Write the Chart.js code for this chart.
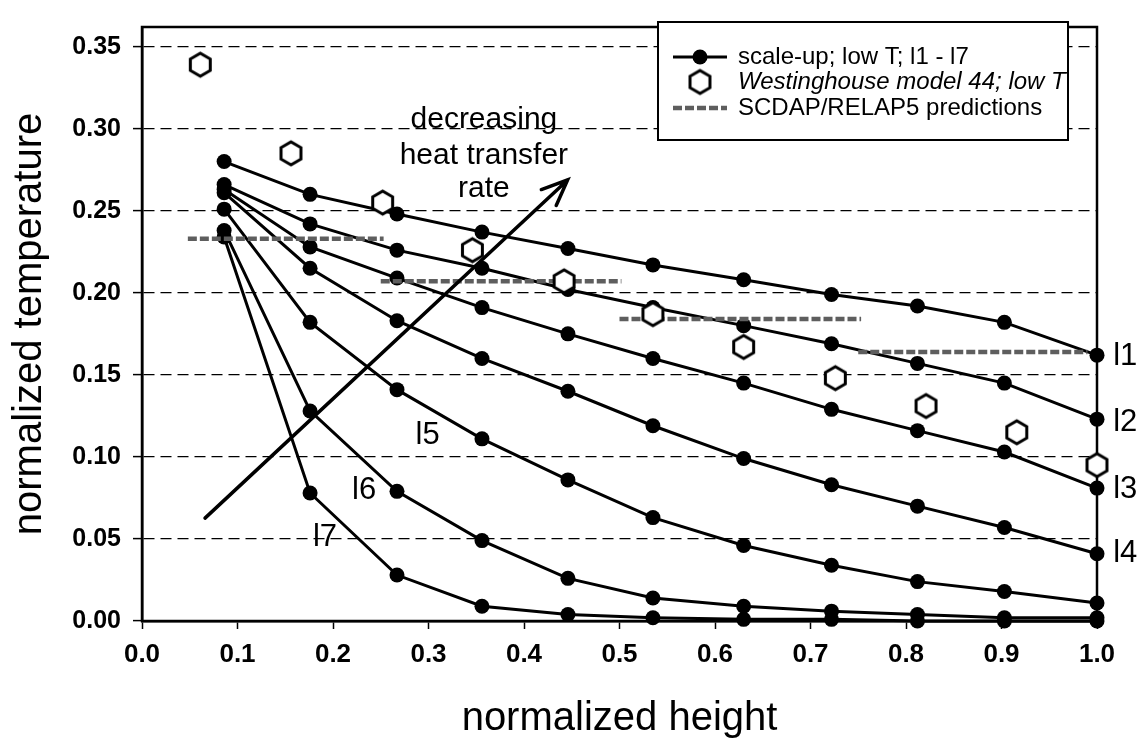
<!DOCTYPE html>
<html>
<head>
<meta charset="utf-8">
<title>normalized temperature vs normalized height</title>
<script src="https://cdn.jsdelivr.net/npm/chart.js@4.4.1/dist/chart.umd.min.js"></script>
<style>
  html, body { margin: 0; padding: 0; background: #fff; }
  #wrap { position: relative; width: 1139px; height: 740px; }
</style>
</head>
<body>
<div id="wrap"><canvas id="temp-chart"></canvas></div>
<script>
// axial positions of the scale-up measurements
const heights = [0.086, 0.176, 0.267, 0.356, 0.446, 0.535, 0.630, 0.722, 0.812, 0.903, 1.0];

// scale-up; low T; l1 - l7
const tempL1 = [0.280, 0.260, 0.248, 0.237, 0.227, 0.217, 0.208, 0.199, 0.192, 0.182, 0.162];
const tempL2 = [0.266, 0.242, 0.226, 0.215, 0.202, 0.191, 0.180, 0.169, 0.157, 0.145, 0.123];
const tempL3 = [0.263, 0.228, 0.209, 0.191, 0.175, 0.160, 0.145, 0.129, 0.116, 0.103, 0.081];
const tempL4 = [0.261, 0.215, 0.183, 0.160, 0.140, 0.119, 0.099, 0.083, 0.070, 0.057, 0.041];
const tempL5 = [0.251, 0.182, 0.141, 0.111, 0.086, 0.063, 0.046, 0.034, 0.024, 0.018, 0.011];
const tempL6 = [0.238, 0.128, 0.079, 0.049, 0.026, 0.014, 0.009, 0.006, 0.004, 0.002, 0.002];
const tempL7 = [0.234, 0.078, 0.028, 0.009, 0.004, 0.002, 0.001, 0.001, 0.0, 0.0, 0.0];
const curveNames = ['l1', 'l2', 'l3', 'l4', 'l5', 'l6', 'l7'];

// Westinghouse model 44; low T
const westHeights = [0.061, 0.156, 0.252, 0.346, 0.442, 0.535, 0.630, 0.726, 0.821, 0.916, 1.0];
const westTemps = [0.339, 0.285, 0.255, 0.226, 0.207, 0.187, 0.167, 0.148, 0.131, 0.115, 0.095];

// SCDAP/RELAP5 predictions (one flat value per node)
const scdapFrom = [0.048, 0.250, 0.500, 0.750];
const scdapTo = [0.253, 0.502, 0.753, 0.990];
const scdapTemps = [0.233, 0.207, 0.184, 0.164];

const xTickValues = [0, 0.1, 0.2, 0.3, 0.4, 0.5, 0.6, 0.7, 0.8, 0.9, 1.0];
const yTickValues = [0, 0.05, 0.10, 0.15, 0.20, 0.25, 0.30, 0.35];

// where the curve names sit (data units, text starts here)
const curveLabelAt = [[1.017, 0.1615], [1.017, 0.121], [1.017, 0.080], [1.017, 0.041],
                      [0.2865, 0.113], [0.220, 0.0795], [0.179, 0.0509]];
const arrowFrom = [0.066, 0.0627];
const arrowTo = [0.4457, 0.2688];
const arrowText = ['decreasing', 'heat transfer', 'rate'];
const arrowTextAt = [[0.358, 0.3006], [0.358, 0.2787], [0.358, 0.2586]];

const FONT = "'Liberation Sans', Arial, Helvetica, sans-serif";
Chart.defaults.font.family = FONT;
Chart.defaults.color = '#000';

function hexagonImage(r) {
    const c = document.createElement('canvas');
    const s = Math.ceil(r * 2 + 6);
    c.width = s;
    c.height = s;
    const g = c.getContext('2d');
    g.beginPath();
    for (let i = 0; i < 6; i++) {
        const ang = Math.PI / 2 + i * Math.PI / 3;
        const px = s / 2 + r * Math.cos(ang);
        const py = s / 2 + r * Math.sin(ang);
        if (i === 0) g.moveTo(px, py); else g.lineTo(px, py);
    }
    g.closePath();
    g.fillStyle = '#fff';
    g.fill();
    g.lineWidth = 3;
    g.strokeStyle = '#000';
    g.stroke();
    return c;
}
const hexImg = hexagonImage(11.5);

const SCDAP_COLOR = '#5e5e5e';
const SCDAP_DASH = [9, 3];

const datasets = [];
datasets.push({
    label: 'Westinghouse model 44; low T',
    data: westHeights.map((h, i) => ({ x: h, y: westTemps[i] })),
    showLine: false,
    pointStyle: hexImg,
    pointRadius: 12,
    clip: false
});
scdapFrom.forEach((from, i) => {
    datasets.push({
        label: 'SCDAP/RELAP5 predictions',
        data: [{ x: from, y: scdapTemps[i] }, { x: scdapTo[i], y: scdapTemps[i] }],
        showLine: true,
        borderColor: SCDAP_COLOR,
        borderWidth: 4.5,
        borderDash: SCDAP_DASH,
        pointRadius: 0,
        clip: false
    });
});
[tempL1, tempL2, tempL3, tempL4, tempL5, tempL6, tempL7].forEach((temps, k) => {
    datasets.push({
        label: curveNames[k],
        data: heights.map((h, i) => ({ x: h, y: temps[i] })),
        showLine: true,
        borderColor: '#000',
        borderWidth: 3,
        pointRadius: 7.5,
        pointBackgroundColor: '#000',
        pointBorderWidth: 0,
        clip: false
    });
});

const overlayPlugin = {
    id: 'overlay',
    beforeDatasetsDraw(chart) {
        const { ctx, chartArea: a } = chart;
        ctx.save();
        ctx.strokeStyle = '#000';
        ctx.lineWidth = 2.5;
        ctx.strokeRect(a.left, a.top, a.right - a.left, a.bottom - a.top);
        ctx.restore();
    },
    afterDatasetsDraw(chart) {
        const { ctx, scales: { x, y } } = chart;
        ctx.save();
        ctx.fillStyle = '#000';
        ctx.strokeStyle = '#000';

        // curve names
        ctx.font = '31px ' + FONT;
        ctx.textAlign = 'left';
        ctx.textBaseline = 'middle';
        curveNames.forEach((name, i) => {
            ctx.fillText(name, x.getPixelForValue(curveLabelAt[i][0]), y.getPixelForValue(curveLabelAt[i][1]));
        });

        // arrow
        const x0 = x.getPixelForValue(arrowFrom[0]), y0 = y.getPixelForValue(arrowFrom[1]);
        const x1 = x.getPixelForValue(arrowTo[0]), y1 = y.getPixelForValue(arrowTo[1]);
        const ang = Math.atan2(y1 - y0, x1 - x0);
        ctx.lineWidth = 3.5;
        ctx.lineCap = 'round';
        ctx.beginPath();
        ctx.moveTo(x0, y0);
        ctx.lineTo(x1, y1);
        ctx.moveTo(x1 - 28 * Math.cos(ang - 0.4), y1 - 28 * Math.sin(ang - 0.4));
        ctx.lineTo(x1, y1);
        ctx.lineTo(x1 - 28 * Math.cos(ang + 0.4), y1 - 28 * Math.sin(ang + 0.4));
        ctx.stroke();

        ctx.font = '30px ' + FONT;
        ctx.textAlign = 'center';
        ctx.textBaseline = 'alphabetic';
        arrowText.forEach((t, i) => {
            ctx.fillText(t, x.getPixelForValue(arrowTextAt[i][0]), y.getPixelForValue(arrowTextAt[i][1]));
        });
        ctx.restore();
    },
    afterDraw(chart) {
        const ctx = chart.ctx;
        const box = { left: 658, top: 22, width: 410, height: 118 };
        ctx.save();
        ctx.fillStyle = '#fff';
        ctx.fillRect(box.left, box.top, box.width, box.height);
        ctx.strokeStyle = '#000';
        ctx.lineWidth = 2;
        ctx.strokeRect(box.left, box.top, box.width, box.height);

        const symX = 700, textX = 738;
        const rows = [57, 82, 108];

        // row 1: line with dot
        ctx.lineWidth = 3;
        ctx.beginPath();
        ctx.moveTo(symX - 27, rows[0]);
        ctx.lineTo(symX + 27, rows[0]);
        ctx.stroke();
        ctx.beginPath();
        ctx.arc(symX, rows[0], 7.5, 0, Math.PI * 2);
        ctx.fillStyle = '#000';
        ctx.fill();

        // row 2: hexagon
        ctx.drawImage(hexImg, symX - hexImg.width / 2, rows[1] - hexImg.height / 2);

        // row 3: grey dashed bar
        ctx.strokeStyle = SCDAP_COLOR;
        ctx.lineWidth = 4.5;
        ctx.setLineDash(SCDAP_DASH);
        ctx.beginPath();
        ctx.moveTo(symX - 27, rows[2]);
        ctx.lineTo(symX + 27, rows[2]);
        ctx.stroke();
        ctx.setLineDash([]);

        ctx.fillStyle = '#000';
        ctx.textAlign = 'left';
        ctx.textBaseline = 'middle';
        ctx.font = '24px ' + FONT;
        ctx.fillText('scale-up; low T; l1 - l7', textX, rows[0]);
        ctx.font = 'italic 24px ' + FONT;
        ctx.fillText('Westinghouse model 44; low T', textX, rows[1]);
        ctx.font = '24px ' + FONT;
        ctx.fillText('SCDAP/RELAP5 predictions', textX, rows[2]);
        ctx.restore();
    }
};

const ctx = document.getElementById('temp-chart').getContext('2d');
const chart = new Chart(ctx, {
    type: 'scatter',
    data: { datasets: datasets },
    options: {
        responsive: true,
        maintainAspectRatio: false,
        animation: false,
        layout: { padding: { top: 9, right: 42, left: 0, bottom: 0 } },
        plugins: {
            legend: { display: false },
            tooltip: { enabled: false }
        },
        scales: {
            x: {
                type: 'linear',
                min: 0,
                max: 1,
                afterBuildTicks: s => { s.ticks = xTickValues.map(v => ({ value: v })); },
                afterFit: s => { s.height = 119; },
                ticks: {
                    callback: v => v.toFixed(1),
                    font: { size: 26, weight: 'bold' },
                    color: '#000',
                    padding: 10,
                    maxRotation: 0,
                    autoSkip: false
                },
                grid: {
                    drawOnChartArea: false,
                    drawTicks: true,
                    tickLength: 8,
                    tickColor: '#000',
                    tickWidth: 1.5
                },
                border: { display: true, color: '#000', width: 2.5 },
                title: {
                    display: true,
                    text: 'normalized height',
                    font: { size: 40, lineHeight: 1 },
                    color: '#000',
                    padding: { top: 0, bottom: 1 }
                }
            },
            y: {
                type: 'linear',
                min: 0,
                max: 0.362,
                afterBuildTicks: s => { s.ticks = yTickValues.map(v => ({ value: v })); },
                afterFit: s => { s.width = 142; },
                ticks: {
                    callback: v => v.toFixed(2),
                    font: { size: 25, weight: 'bold' },
                    color: '#000',
                    padding: 12,
                    autoSkip: false
                },
                grid: {
                    drawOnChartArea: true,
                    color: '#000',
                    lineWidth: 1.2,
                    tickLength: 9,
                    tickColor: '#000',
                    tickWidth: 1.5,
                    tickBorderDash: []
                },
                border: { display: true, color: '#000', width: 2.5, dash: [11, 6] },
                title: {
                    display: true,
                    text: 'normalized temperature',
                    font: { size: 40, lineHeight: 1 },
                    color: '#000',
                    padding: { top: 10, bottom: 0 }
                }
            }
        }
    },
    plugins: [overlayPlugin]
});
</script>
</body>
</html>
